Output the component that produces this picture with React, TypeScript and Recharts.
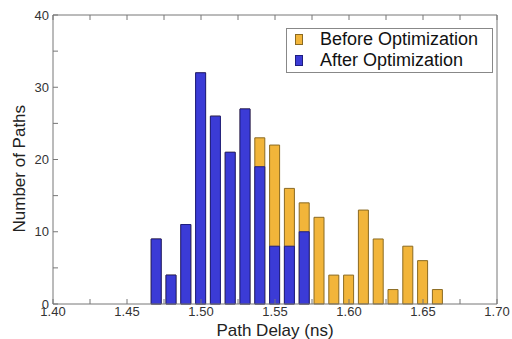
import React from 'react';
import { BarChart, Bar, XAxis, YAxis } from 'recharts';

const delays = [1.47, 1.48, 1.49, 1.5, 1.51, 1.52, 1.53, 1.54, 1.55, 1.56, 1.57, 1.58, 1.59, 1.6, 1.61, 1.62, 1.63, 1.64, 1.65, 1.66];
const beforeCounts = [9, 4, 11, 32, 26, 21, 27, 23, 22, 16, 14, 12, 4, 4, 13, 9, 2, 8, 6, 2];
const afterCounts = [9, 4, 11, 32, 26, 21, 27, 19, 8, 8, 10, null, null, null, null, null, null, null, null, null];

const xTicks = [1.4, 1.425, 1.45, 1.475, 1.5, 1.525, 1.55, 1.575, 1.6, 1.625, 1.65, 1.675, 1.7];
const yTicks = [0, 5, 10, 15, 20, 25, 30, 35, 40];

const BEFORE_COLOR = '#f2b53a';
const AFTER_COLOR = '#3b3bd6';
const AXIS_COLOR = '#777';
const FONT = '"Liberation Sans", Arial, sans-serif';

const data = delays.map((d, i) => ({ delay: d, before: beforeCounts[i], after: afterCounts[i] }));

const xLabel = (v: number) => (Math.round(v * 1000) % 50 === 0 ? v.toFixed(2) : '');
const yLabel = (v: number) => (v % 10 === 0 ? String(v) : '');
const blank = () => '';

const legendItems = [
  { name: 'Before Optimization', color: BEFORE_COLOR, border: '#8a6a22' },
  { name: 'After Optimization', color: AFTER_COLOR, border: '#1e1e80' },
];

const LegendBox = () => (
  <div
    style={{
      position: 'absolute',
      left: 286,
      top: 28,
      width: 188,
      height: 43,
      border: '1px solid #888',
      background: '#fff',
      padding: '0 9px 0 8px',
      fontFamily: FONT,
      fontSize: 18,
      color: '#111',
      lineHeight: '21px',
    }}
  >
    {legendItems.map((item) => (
      <div key={item.name} style={{ display: 'flex', alignItems: 'center' }}>
        <span
          style={{
            display: 'inline-block',
            width: 6,
            height: 9,
            background: item.color,
            border: `1px solid ${item.border}`,
            marginRight: 17,
          }}
        />
        {item.name}
      </div>
    ))}
  </div>
);

export default function App() {
  return (
    <div style={{ position: 'absolute', left: 0, top: 0, width: 512, height: 339, background: '#fff' }}>
      <BarChart
        width={512}
        height={339}
        data={data}
        margin={{ top: 14, right: 14, bottom: 0, left: 0 }}
        barSize={10}
      >
        <XAxis
          dataKey="delay"
          type="number"
          domain={[1.4, 1.7]}
          ticks={xTicks}
          tickFormatter={xLabel}
          height={35}
          stroke={AXIS_COLOR}
          tickSize={-5}
          tickMargin={8}
          tick={{ fill: '#333', fontSize: 13, fontFamily: FONT }}
          label={{ value: 'Path Delay (ns)', position: 'insideBottom', offset: 3, fill: '#222', fontSize: 17, fontFamily: FONT }}
        />
        <XAxis
          xAxisId="top"
          dataKey="delay"
          type="number"
          orientation="top"
          domain={[1.4, 1.7]}
          ticks={xTicks}
          tickFormatter={blank}
          height={1}
          stroke={AXIS_COLOR}
          tickSize={-5}
        />
        <YAxis
          type="number"
          domain={[0, 40]}
          ticks={yTicks}
          tickFormatter={yLabel}
          width={53}
          stroke={AXIS_COLOR}
          tickSize={-5}
          tickMargin={9}
          tick={{ fill: '#333', fontSize: 13, fontFamily: FONT }}
          label={{ value: 'Number of Paths', angle: -90, position: 'insideLeft', offset: 19, dy: 73, fill: '#222', fontSize: 17, fontFamily: FONT }}
        />
        <YAxis
          yAxisId="right"
          orientation="right"
          type="number"
          domain={[0, 40]}
          ticks={yTicks}
          tickFormatter={blank}
          width={1}
          stroke={AXIS_COLOR}
          tickSize={-5}
        />
        <Bar xAxisId="top" dataKey="before" name="Before Optimization" fill={BEFORE_COLOR} stroke="#8a6a22" strokeWidth={1} isAnimationActive={false} />
        <Bar dataKey="after" name="After Optimization" fill={AFTER_COLOR} stroke="#1e1e80" strokeWidth={1} isAnimationActive={false} />
      </BarChart>
      <LegendBox />
    </div>
  );
}
